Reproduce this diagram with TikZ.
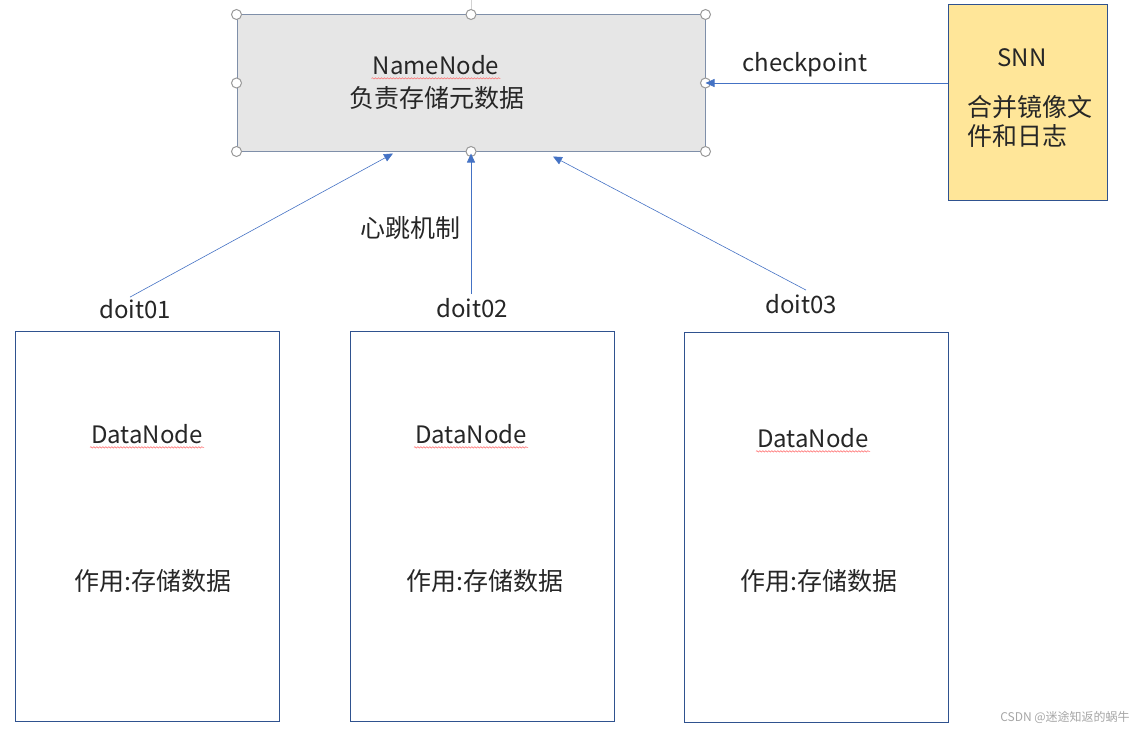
\documentclass[tikz,border=0pt]{standalone}
\usepackage{fontspec}
\setmainfont{Noto Sans CJK SC}
\usetikzlibrary{arrows.meta,positioning,calc,decorations.pathmorphing}
\definecolor{nnfill}{HTML}{E6E6E6}
\definecolor{nnline}{HTML}{7F8FA9}
\definecolor{snnfill}{HTML}{FFE699}
\definecolor{boxline}{HTML}{2F528F}
\definecolor{arrblue}{HTML}{4472C4}
\tikzset{
  dnbox/.style={draw=boxline, line width=1pt, minimum width=264pt, minimum height=390pt, inner sep=0pt},
  link/.style={arrblue, line width=0.6pt, -{Triangle[length=9pt,width=8pt]}},
  handle/.style={draw=gray!80, fill=white, line width=1pt},
  lbl/.style={text=black!85, inner sep=1pt},
  cjk/.style={lbl, font=\fontsize{25}{29}\selectfont},
  squiggle/.style={red!60, line width=0.5pt, decorate, decoration={snake, amplitude=0.7pt, segment length=3pt}}
}

\begin{document}
\begin{tikzpicture}[x=1pt,y=-1pt,font=\fontsize{24}{29}\selectfont]
  \useasboundingbox (0,0) rectangle (1137,733);

  \node[draw=nnline, line width=1pt, fill=nnfill, minimum width=468pt, minimum height=136pt, inner sep=0pt] (nn) at (471,83) {};
  \node[lbl] (nnname) at (436,65) {NameNode};
  \node[cjk] (nnrole) at (437,98) {负责存储元数据};
  \draw[squiggle] ($(nnname.base west)+(0,4)$) -- ($(nnname.base east)+(0,4)$);
  \draw[gray!35, line width=1pt] (nn.north) -- ++(0,-15);
  \foreach \a in {north west,north,north east,east,south east,south,south west,west}
    \draw[handle] (nn.\a) circle (5pt);

  \node[draw=boxline, line width=1pt, fill=snnfill, minimum width=159pt, minimum height=195pt, inner sep=0pt] (snn) at (1027.5,102.5) {};
  \node[lbl] (snnname) at (1022,58) {SNN};
  \node[cjk, anchor=west, align=left] (snnrole) at (966,121) {合并镜像文\\件和日志};
  \draw[link] (snn.west |- nn.east) -- (nn.east);
  \node[lbl] (ckpt) at (805,65) {checkpoint};

  \node[dnbox] (dn1) at (147,526) {};
  \node[dnbox] (dn2) at (482,526) {};
  \node[dnbox] (dn3) at (816,527.5) {};

  \node[lbl] (dnname1) at (147,434) {DataNode};
  \node[lbl] (dnname2) at (471,434) {DataNode};
  \node[lbl] (dnname3) at (813,438) {DataNode};
  \draw[squiggle] ($(dnname1.base west)+(0,4)$) -- ($(dnname1.base east)+(0,4)$);
  \draw[squiggle] ($(dnname2.base west)+(0,4)$) -- ($(dnname2.base east)+(0,4)$);
  \draw[squiggle] ($(dnname3.base west)+(0,4)$) -- ($(dnname3.base east)+(0,4)$);
  \node[cjk] (dnrole1) at (153,581) {作用:存储数据};
  \node[cjk] (dnrole2) at (485,581) {作用:存储数据};
  \node[cjk] (dnrole3) at (819,581) {作用:存储数据};

  \node[lbl] (host1) at (135,309) {doit01};
  \node[lbl] (host2) at (472,308) {doit02};
  \node[lbl] (host3) at (801,304) {doit03};
  \draw[link] ($(host1.north)+(-5,-1)$) -- ($(nn.south)+(-78,2)$);
  \draw[link] ($(host2.north)+(-1,-3)$) -- ($(nn.south)+(0,2)$);
  \draw[link] ($(host3.north)+(5,-3)$) -- ($(nn.south)+(82,5)$);
  \node[cjk] (beat) at (410,228) {心跳机制};

  \node[text=gray!70, font=\fontsize{12}{14}\selectfont] (mark) at (1065,717) {CSDN @迷途知返的蜗牛};
\end{tikzpicture}
\end{document}
